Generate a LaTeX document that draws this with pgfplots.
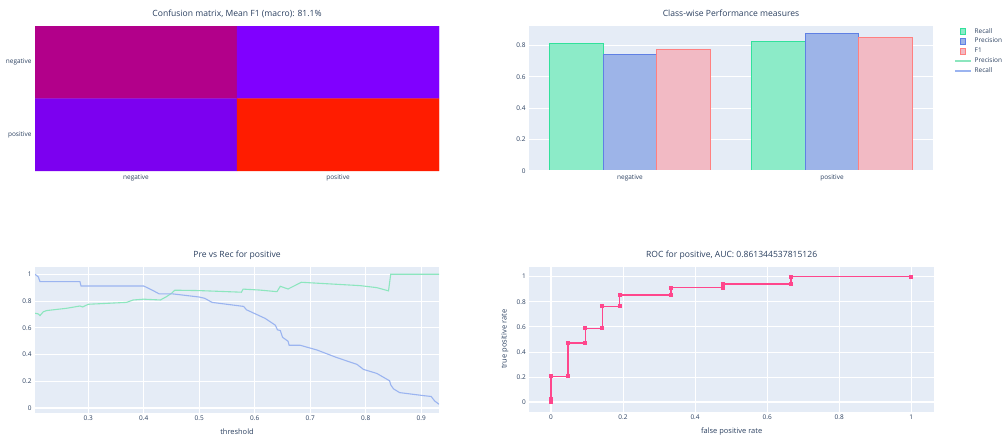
\documentclass[border=0pt]{standalone}
\usepackage{pgfplots}
\usepackage{pgfplotstable}
\pgfplotsset{compat=1.18}
\usepackage{fontspec}
\setmainfont{Open Sans}
\definecolor{bg}{RGB}{229,236,246}
\definecolor{txt}{RGB}{42,63,95}
\definecolor{recfill}{RGB}{140,235,200}
\definecolor{recdraw}{RGB}{50,225,155}
\definecolor{precfill}{RGB}{157,180,232}
\definecolor{precdraw}{RGB}{95,128,228}
\definecolor{fonefill}{RGB}{242,186,196}
\definecolor{fonedraw}{RGB}{255,128,128}
\definecolor{precline}{RGB}{140,230,190}
\definecolor{recline}{RGB}{155,180,240}
\definecolor{roc}{RGB}{255,70,140}

\pgfplotstableread{
x y n
0 1 17
1 1 4
0 0 6
1 0 28
}\cmdata

\pgfplotstableread{
cls rec prec f1
0 0.810 0.739 0.773
1 0.824 0.875 0.848
}\barsdata

\pgfplotstableread{
t p
0.204 0.709
0.210 0.704
0.213 0.692
0.219 0.720
0.225 0.729
0.261 0.746
0.285 0.763
0.290 0.756
0.300 0.776
0.369 0.790
0.381 0.808
0.400 0.814
0.430 0.808
0.441 0.833
0.450 0.858
0.456 0.881
0.500 0.878
0.576 0.866
0.579 0.889
0.609 0.882
0.640 0.870
0.646 0.910
0.660 0.890
0.684 0.940
0.790 0.915
0.820 0.900
0.841 0.876
0.845 1.000
0.932 1.000
}\precdata

\pgfplotstableread{
t r
0.204 1.000
0.210 0.980
0.213 0.945
0.285 0.945
0.287 0.912
0.400 0.912
0.415 0.882
0.428 0.853
0.453 0.853
0.500 0.830
0.510 0.820
0.523 0.790
0.580 0.760
0.585 0.735
0.619 0.670
0.637 0.620
0.641 0.585
0.646 0.580
0.650 0.530
0.660 0.500
0.662 0.470
0.682 0.470
0.712 0.435
0.748 0.378
0.784 0.328
0.796 0.290
0.820 0.260
0.843 0.205
0.845 0.175
0.850 0.145
0.861 0.117
0.903 0.095
0.918 0.088
0.924 0.055
0.932 0.030
}\recdata

\pgfplotstableread{
fpr tpr
0 0
0 0.0294
0 0.2059
0.0476 0.2059
0.0476 0.4706
0.0952 0.4706
0.0952 0.5882
0.1429 0.5882
0.1429 0.7647
0.1905 0.7647
0.1905 0.8529
0.3333 0.8529
0.3333 0.9118
0.4762 0.9118
0.4762 0.9412
0.6667 0.9412
0.6667 1
1 1
}\rocdata

\pgfplotsset{
  base/.style={
    scale only axis,
    font=\fontsize{6.5}{7.8}\selectfont,
    /pgf/number format/assume math mode=true,
    tick label style={text=txt},
    axis line style={draw=none},
    major tick length=0pt,
    title style={font=\fontsize{8.6}{10}\selectfont, text=txt, at={(axis description cs:0.5,1.026)}, anchor=base},
    label style={font=\fontsize{7.5}{9}\selectfont, text=txt},
  },
  plotlybg/.style={
    axis background/.style={fill=bg},
    grid style={white, line width=0.9bp},
  },
}

\begin{document}
\begin{tikzpicture}
% Confusion matrix
\begin{axis}[base, at={(35bp,-26bp)}, anchor=north west, width=404bp, height=145bp,
  xmin=-0.5, xmax=1.5, ymin=-0.5, ymax=1.5, enlargelimits=false,
  xtick={0,1}, ytick={0,1}, xticklabels={negative,positive}, yticklabels={positive,negative},
  title={Confusion matrix, Mean F1 (macro): 81.1\%},
  colormap={cmcm}{rgb255(0pt)=(128,0,255) rgb255(2pt)=(124,0,240) rgb255(13pt)=(178,0,138) rgb255(24pt)=(255,28,0)},
  point meta min=4, point meta max=28]
\addplot[matrix plot*, mesh/cols=2, point meta=explicit] table[x=x, y=y, meta=n] {\cmdata};
\end{axis}

% Class-wise bars
\begin{axis}[base, plotlybg, at={(529bp,-26bp)}, anchor=north west, width=404bp, height=145bp,
  xmin=-0.5, xmax=1.5, ymin=0, ymax=0.923,
  xtick={0,1}, xticklabels={negative,positive},
  ytick={0,0.2,0.4,0.6,0.8}, ymajorgrids,
  title={Class-wise Performance measures},
  ybar,
  legend cell align=left,
  legend style={at={(axis description cs:1.053,0.985)}, anchor=north west, draw=none, fill=none,
    inner sep=0pt, outer sep=0pt, row sep=3.5bp, text=txt,
    nodes={inner sep=0pt, text height=4.9bp, text depth=1.5bp, text=txt},
    /tikz/every odd column/.append style={column sep=3bp}},
  ]
\addplot[ybar, bar width=0.2667, bar shift=-0.2667, fill=recfill, draw=recdraw, line width=1.1bp,
  legend image code/.code={\draw[fill=recfill, draw=recdraw, line width=0.8bp] (-2.8bp,-2.8bp) rectangle (2.8bp,2.8bp);}]
  table[x=cls, y=rec] {\barsdata};
\addlegendentry{Recall}
\addplot[ybar, bar width=0.2667, bar shift=0, fill=precfill, draw=precdraw, line width=1.1bp,
  legend image code/.code={\draw[fill=precfill, draw=precdraw, line width=0.8bp] (-2.8bp,-2.8bp) rectangle (2.8bp,2.8bp);}]
  table[x=cls, y=prec] {\barsdata};
\addlegendentry{Precision}
\addplot[ybar, bar width=0.2667, bar shift=0.2667, fill=fonefill, draw=fonedraw, line width=1.1bp,
  legend image code/.code={\draw[fill=fonefill, draw=fonedraw, line width=0.8bp] (-2.8bp,-2.8bp) rectangle (2.8bp,2.8bp);}]
  table[x=cls, y=f1] {\barsdata};
\addlegendentry{F1}
\addlegendimage{legend image code/.code={\draw[draw=precline, line width=1.3bp] (-8bp,0bp) -- (8bp,0bp);}}
\addlegendentry{Precision}
\addlegendimage{legend image code/.code={\draw[draw=recline, line width=1.3bp] (-8bp,0bp) -- (8bp,0bp);}}
\addlegendentry{Recall}
\draw[white, line width=1.6bp] (axis cs:-0.5,0) -- (axis cs:1.5,0);
\end{axis}

% Precision vs recall
\begin{axis}[base, plotlybg, at={(35bp,-267bp)}, anchor=north west, width=404bp, height=145.7bp,
  xmin=0.204, xmax=0.932, ymin=-0.033, ymax=1.054,
  xtick={0.3,0.4,0.5,0.6,0.7,0.8,0.9}, ytick={0,0.2,0.4,0.6,0.8,1}, grid=major,
  extra y ticks={0}, extra y tick labels={}, extra y tick style={grid style={white, line width=1.8bp}},
  title={Pre vs Rec for positive},
  xlabel={threshold}, xlabel style={at={(axis description cs:0.5,-0.1496)}, anchor=base}]
\addplot[precline, line width=1.1bp, no markers] table[x=t, y=p] {\precdata};
\addplot[recline, line width=1.1bp, no markers] table[x=t, y=r] {\recdata};
\end{axis}

% ROC
\begin{axis}[base, plotlybg, at={(529.3bp,-267bp)}, anchor=north west, width=404.7bp, height=144.7bp,
  xmin=-0.06, xmax=1.063, ymin=-0.075, ymax=1.077,
  xtick={0,0.2,0.4,0.6,0.8,1}, ytick={0,0.2,0.4,0.6,0.8,1}, grid=major,
  extra y ticks={0}, extra y tick labels={}, extra y tick style={grid style={white, line width=1.8bp}},
  extra x ticks={0}, extra x tick labels={}, extra x tick style={grid style={white, line width=1.8bp}},
  title={ROC for positive, AUC: 0.861344537815126},
  xlabel={false positive rate}, xlabel style={at={(axis description cs:0.5,-0.1506)}, anchor=base},
  ylabel={true positive rate}, ylabel style={at={(axis description cs:-0.0558,0.5)}, anchor=base, rotate=0}]
\addplot[roc, line width=1.4bp, mark=square*, mark size=1.3bp, mark options={fill=roc, draw=roc}] table[x=fpr, y=tpr] {\rocdata};
\end{axis}

\pgfresetboundingbox
\path (0bp,0bp) rectangle (1002bp,-437bp);
\end{tikzpicture}
\end{document}
